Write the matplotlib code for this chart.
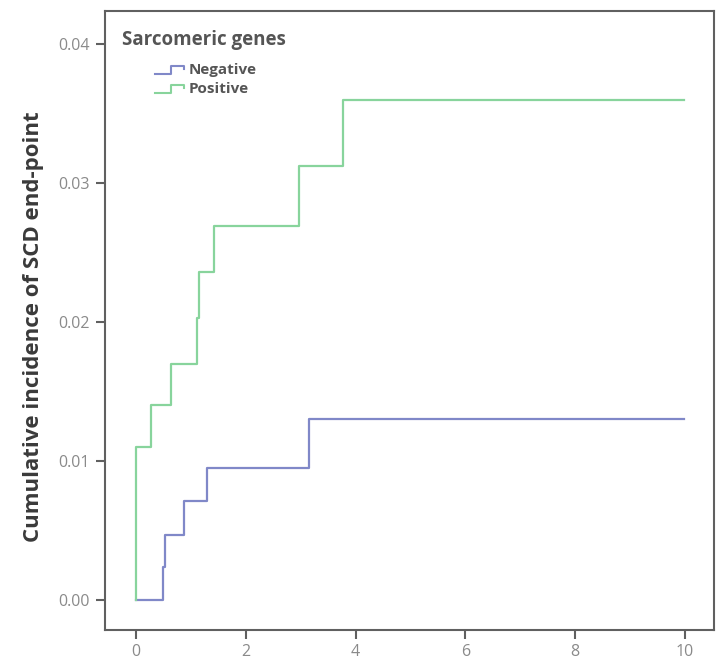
import matplotlib
matplotlib.use("Agg")
import matplotlib.pyplot as plt
from matplotlib.lines import Line2D

# Data
neg_time = [0, 0.50, 0.52, 0.88, 1.29, 3.16, 9.98]
neg_inc = [0.0, 0.0024, 0.0047, 0.0071, 0.0095, 0.0130, 0.0130]
pos_time = [0, 0, 0.27, 0.63, 1.12, 1.15, 1.42, 2.97, 3.78, 9.98]
pos_inc = [0.0, 0.0110, 0.0140, 0.0170, 0.0203, 0.0236, 0.0269, 0.0312, 0.0360, 0.0360]
x_ticks = [0, 2, 4, 6, 8, 10]
y_ticks = [0.00, 0.01, 0.02, 0.03, 0.04]
y_tick_labels = ["0.00", "0.01", "0.02", "0.03", "0.04"]
legend_title = "Sarcomeric genes"
series_names = ["Negative", "Positive"]
colors = ["#8088c8", "#88d49c"]

plt.rcParams['font.family'] = ['Open Sans', 'DejaVu Sans']

W, H = 718, 663
fig = plt.figure(figsize=(W / 100, H / 100), dpi=100)
ax = fig.add_axes([105 / W, 1 - 630 / H, (714 - 105) / W, (630 - 11) / H])

ax.step(neg_time, neg_inc, where='post', color=colors[0], lw=1.6)
ax.step(pos_time, pos_inc, where='post', color=colors[1], lw=1.6)

ax.set_xlim(-0.565, 10.53)
ax.set_ylim(-0.00216, 0.04237)
ax.set_xticks(x_ticks)
ax.set_yticks(y_ticks)
ax.set_yticklabels(y_tick_labels)

for s in ax.spines.values():
    s.set_color("#606060")
    s.set_linewidth(1.5)
ax.tick_params(axis='both', direction='out', length=6.5, width=1.5, color="#606060",
               labelcolor="#8a8a8a", labelsize=11.5)
ax.tick_params(axis='x', pad=3.5)
ax.tick_params(axis='y', pad=4.5)

ax.set_ylabel("Cumulative incidence of SCD end-point", fontsize=16, fontweight='bold',
              color="#3a3a3a")
ax.yaxis.set_label_coords(-0.100, 0.49)

# Legend drawn manually
def px(x, y):
    return x / W, 1 - y / H

tx, ty = px(122, 40)
fig.text(tx, ty, legend_title, fontsize=13.5, fontweight='bold', color="#555555",
         ha='left', va='center')
for i, (name, c) in enumerate(zip(series_names, colors)):
    yc = 70 + 19 * i
    xs = [155, 171, 171, 184, 184]
    ys = [yc + 4, yc + 4, yc - 4, yc - 4, yc - 1]
    fx = [x / W for x in xs]
    fy = [1 - y / H for y in ys]
    fig.add_artist(Line2D(fx, fy, color=c, lw=1.5, transform=fig.transFigure))
    lx, ly = px(189, yc)
    fig.text(lx, ly, name, fontsize=11, fontweight='bold', color="#555555",
             ha='left', va='center')

fig.savefig("out.png", dpi=100)
